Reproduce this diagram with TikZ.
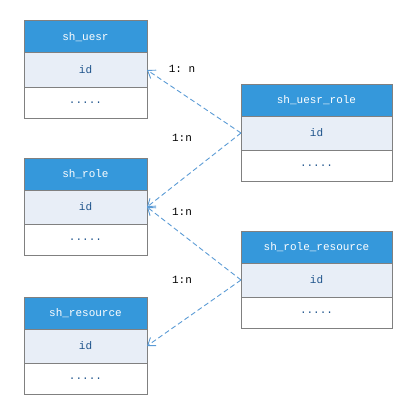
\documentclass[tikz,border=0pt]{standalone}
\usepackage{fontspec}
\setmonofont{Liberation Mono}
\usetikzlibrary{positioning,arrows.meta}
\definecolor{headblue}{RGB}{53,152,219}
\definecolor{rowblue}{RGB}{232,238,247}
\definecolor{textblue}{RGB}{31,84,140}
\definecolor{edgegray}{RGB}{128,128,128}
\definecolor{linkblue}{RGB}{91,155,213}

\begin{document}
\begin{tikzpicture}[
    x=1pt, y=-1pt,
    cell/.style={
        draw=edgegray,
        rectangle,
        line width=1pt,
        inner sep=0pt,
        outer sep=0pt,
        font=\ttfamily\fontsize{11}{13}\selectfont,
        minimum width=123pt
    },
    head/.style={cell, fill=headblue, text=white, minimum height=32pt},
    keyrow/.style={cell, fill=rowblue, text=textblue, minimum height=34pt},
    restrow/.style={cell, fill=white, text=textblue, minimum height=31pt},
    wide/.style={minimum width=151pt},
    link/.style={-{Straight Barb[length=7pt,width=10pt]}, linkblue, line width=0.9pt, dash pattern=on 5pt off 3pt},
    ratio/.style={font=\ttfamily\fontsize{11}{13}\selectfont}
]
\useasboundingbox (0,0) rectangle (417,412);

% ===== Left column =====
\node[head] (user) at (85.5,37) {sh\_uesr};
\node[keyrow, below=0pt of user] (userid) {id};
\node[restrow, below=0pt of userid] (userrest) {.....};

\node[head] (role) at (85.5,174) {sh\_role};
\node[keyrow, below=0pt of role] (roleid) {id};
\node[restrow, below=0pt of roleid] (rolerest) {.....};

\node[head] (res) at (85.5,313) {sh\_resource};
\node[keyrow, below=0pt of res] (resid) {id};
\node[restrow, below=0pt of resid] (resrest) {.....};

% ===== Right column =====
\node[head, wide] (userrole) at (316.5,100) {sh\_uesr\_role};
\node[keyrow, wide, below=0pt of userrole] (userroleid) {id};
\node[restrow, wide, below=0pt of userroleid] (userrolerest) {.....};

\node[head, wide] (roleres) at (316.5,247) {sh\_role\_resource};
\node[keyrow, wide, below=0pt of roleres] (roleresid) {id};
\node[restrow, wide, below=0pt of roleresid] (roleresrest) {.....};

% ===== Links =====
\draw[link] (userroleid.west) -- (userid.east);
\draw[link] (userroleid.west) -- (roleid.east);
\draw[link] (roleresid.west) -- (roleid.east);
\draw[link] (roleresid.west) -- (resid.east);

% ===== Ratios =====
\node[ratio] (r1) at (182,69) {1: n};
\node[ratio] (r2) at (182,138) {1:n};
\node[ratio] (r3) at (182,212) {1:n};
\node[ratio] (r4) at (182,280) {1:n};

\end{tikzpicture}
\end{document}
